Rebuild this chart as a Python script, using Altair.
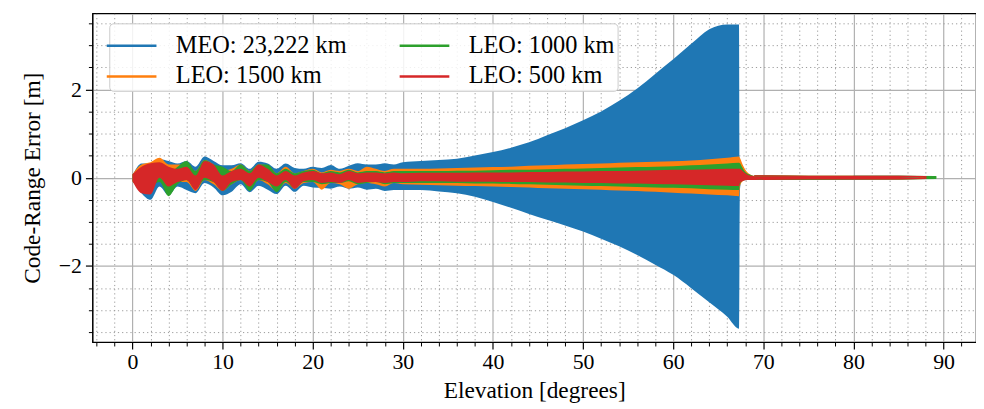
import altair as alt
import pandas as pd

FONT = "Liberation Serif"
NAMES = ["MEO: 23,222 km", "LEO: 1500 km", "LEO: 1000 km", "LEO: 500 km"]
COLORS = ["#1f77b4", "#ff7f0e", "#2ca02c", "#d62728"]

# common elevation grid (degrees) for the main part of every series
ELEV_MAIN = list(range(0, 31)) + list(range(32, 67, 2)) + [67.3]

# ---- MEO 23,222 km ----
MEO_UP = [0.05, 0.32, 0.33, 0.42, 0.38, 0.32, 0.38, 0.25, 0.48, 0.38, 0.28, 0.28, 0.33, 0.2, 0.36, 0.32,
          0.2, 0.32, 0.22, 0.2, 0.25, 0.22, 0.29, 0.2, 0.27, 0.33, 0.3, 0.3, 0.33, 0.3, 0.35,
          0.38, 0.4, 0.43, 0.5, 0.58, 0.68, 0.8, 0.96, 1.12, 1.3, 1.5, 1.74, 2.02, 2.35, 2.68, 3.03, 3.36, 3.47,
          3.47]
MEO_LO = [-0.05, -0.35, -0.5, -0.2, -0.4, -0.2, -0.28, -0.35, -0.12, -0.22, -0.4, -0.32, -0.15, -0.33, -0.18, -0.27,
          -0.37, -0.18, -0.32, -0.18, -0.22, -0.23, -0.25, -0.2, -0.25, -0.22, -0.27, -0.25, -0.3, -0.28, -0.28,
          -0.28, -0.31, -0.35, -0.43, -0.55, -0.68, -0.82, -0.95, -1.08, -1.22, -1.38, -1.55, -1.75, -1.97, -2.2, -2.5, -2.82, -3.15,
          -3.42]
MEO_TAIL_ELEV = [67.4, 67.6, 69, 75, 80, 85, 87.2]
MEO_TAIL_UP = [0.05, 0.04, 0.03, 0.04, 0.03, 0.03, 0.02]
MEO_TAIL_LO = [-0.3, -0.06, -0.05, -0.05, -0.05, -0.04, -0.03]

# ---- LEO 1500 km ----
L1500_UP = [0.08, 0.3, 0.35, 0.45, 0.3, 0.3, 0.3, 0.15, 0.4, 0.3, 0.15, 0.2, 0.3, 0.15, 0.3, 0.28,
            0.1, 0.25, 0.1, 0.15, 0.2, 0.12, 0.18, 0.15, 0.2, 0.15, 0.25, 0.2, 0.15, 0.2, 0.2,
            0.2, 0.21, 0.22, 0.23, 0.24, 0.25, 0.27, 0.28, 0.3, 0.31, 0.32, 0.34, 0.35, 0.36, 0.37, 0.39, 0.42, 0.45,
            0.48]
L1500_LO = [-0.08, -0.25, -0.2, -0.05, -0.3, -0.1, -0.1, -0.3, -0.05, -0.15, -0.3, -0.15, -0.05, -0.25, -0.05, -0.15,
            -0.3, -0.12, -0.25, -0.12, -0.1, -0.27, -0.12, -0.15, -0.25, -0.15, -0.12, -0.15, -0.2, -0.12, -0.15,
            -0.16, -0.17, -0.18, -0.19, -0.2, -0.21, -0.22, -0.24, -0.25, -0.26, -0.27, -0.29, -0.3, -0.32, -0.34, -0.36, -0.38, -0.4,
            -0.42]
L1500_TAIL_ELEV = [67.4, 67.7, 68, 68.5, 69, 75, 80, 85, 87.8]
L1500_TAIL_UP = [0.45, 0.3, 0.18, 0.08, 0.04, 0.03, 0.03, 0.03, 0.02]
L1500_TAIL_LO = [-0.2, -0.08, -0.05, -0.05, -0.05, -0.04, -0.04, -0.04, -0.03]

# ---- LEO 1000 km ----
L1000_UP = [0.08, 0.2, 0.3, 0.3, 0.1, 0.25, 0.38, 0.15, 0.4, 0.3, 0.25, 0.15, 0.3, 0.15, 0.3, 0.3,
            0.1, 0.2, 0.1, 0.15, 0.18, 0.1, 0.15, 0.12, 0.18, 0.12, 0.15, 0.15, 0.12, 0.15, 0.15,
            0.15, 0.15, 0.16, 0.16, 0.17, 0.18, 0.18, 0.19, 0.2, 0.21, 0.22, 0.23, 0.24, 0.25, 0.26, 0.28, 0.3, 0.32,
            0.34]
L1000_LO = [-0.08, -0.25, -0.2, -0.1, -0.42, -0.15, -0.05, -0.25, -0.05, -0.1, -0.3, -0.15, -0.05, -0.3, -0.05, -0.1,
            -0.33, -0.1, -0.25, -0.1, -0.1, -0.15, -0.12, -0.12, -0.08, -0.15, -0.12, -0.1, -0.15, -0.12, -0.12,
            -0.12, -0.12, -0.12, -0.13, -0.13, -0.14, -0.15, -0.16, -0.17, -0.18, -0.19, -0.2, -0.21, -0.22, -0.23, -0.24, -0.26, -0.27,
            -0.28]
L1000_TAIL_ELEV = [67.4, 67.7, 68, 68.5, 69, 75, 80, 85, 89.2]
L1000_TAIL_UP = [0.33, 0.22, 0.13, 0.07, 0.04, 0.03, 0.03, 0.03, 0.02]
L1000_TAIL_LO = [-0.15, -0.07, -0.05, -0.05, -0.05, -0.05, -0.04, -0.04, -0.03]

# ---- LEO 500 km ----
L500_UP = [0.08, 0.25, 0.33, 0.35, 0.25, 0.2, 0.25, 0.05, 0.38, 0.3, 0.05, 0.15, 0.2, 0.1, 0.3, 0.2,
           0.05, 0.15, 0.05, 0.12, 0.15, 0.1, 0.12, 0.08, 0.15, 0.1, 0.12, 0.12, 0.1, 0.12, 0.1,
           0.11, 0.11, 0.11, 0.12, 0.12, 0.12, 0.13, 0.13, 0.14, 0.14, 0.15, 0.15, 0.16, 0.17, 0.18, 0.18, 0.19, 0.2,
           0.2]
L500_LO = [-0.08, -0.35, -0.38, 0.0, -0.2, -0.1, -0.05, -0.28, 0.0, -0.1, -0.3, -0.1, -0.05, -0.2, 0.0, -0.1,
           -0.2, -0.05, -0.25, -0.08, -0.05, -0.12, -0.1, -0.12, -0.05, -0.12, -0.1, -0.1, -0.12, -0.1, -0.1,
           -0.08, -0.08, -0.09, -0.09, -0.09, -0.1, -0.1, -0.11, -0.11, -0.12, -0.12, -0.13, -0.13, -0.14, -0.15, -0.16, -0.17, -0.18,
           -0.19]
L500_TAIL_ELEV = [67.4, 67.7, 68, 68.5, 69, 75, 80, 85, 88.1]
L500_TAIL_UP = [0.2, 0.15, 0.1, 0.05, 0.04, 0.03, 0.03, 0.03, 0.02]
L500_TAIL_LO = [-0.12, -0.08, -0.06, -0.05, -0.05, -0.04, -0.04, -0.04, -0.03]

X_MAJOR = list(range(0, 91, 10))
X_MINOR = [v for v in range(-4, 93, 2) if v % 10 != 0]
Y_MAJOR = [-2, 0, 2]
Y_MINOR = [-3.5, -3, -2.5, -1.5, -1, -0.5, 0.5, 1, 1.5, 2.5, 3, 3.5]

SERIES = [
    (NAMES[0], COLORS[0], MEO_UP, MEO_LO, MEO_TAIL_ELEV, MEO_TAIL_UP, MEO_TAIL_LO),
    (NAMES[1], COLORS[1], L1500_UP, L1500_LO, L1500_TAIL_ELEV, L1500_TAIL_UP, L1500_TAIL_LO),
    (NAMES[2], COLORS[2], L1000_UP, L1000_LO, L1000_TAIL_ELEV, L1000_TAIL_UP, L1000_TAIL_LO),
    (NAMES[3], COLORS[3], L500_UP, L500_LO, L500_TAIL_ELEV, L500_TAIL_UP, L500_TAIL_LO),
]

xs = alt.Scale(domain=[-4.45, 93.6], nice=False, zero=False)
ys = alt.Scale(domain=[-3.72, 3.72], nice=False, zero=False)

major_x = alt.Axis(values=X_MAJOR, orient="bottom", title="Elevation [degrees]", tickSize=7, tickWidth=1.2,
                   grid=True, gridColor="#b0b0b0", gridWidth=1.2, labelPadding=3, titlePadding=6,
                   domainColor="black", tickColor="black")
major_y = alt.Axis(values=Y_MAJOR, orient="left", title="Code-Range Error [m]", tickSize=7, tickWidth=1.2,
                   grid=True, gridColor="#b0b0b0", gridWidth=1.2, labelPadding=4, titlePadding=14,
                   domainColor="black", tickColor="black")
minor_x = alt.Axis(values=X_MINOR, orient="bottom", title=None, labels=False, tickSize=4, tickWidth=1,
                   grid=True, gridColor="#9a9a9a", gridDash=[1.2, 3], gridWidth=1, domain=False, tickColor="black")
minor_y = alt.Axis(values=Y_MINOR, orient="left", title=None, labels=False, tickSize=4, tickWidth=1,
                   grid=True, gridColor="#9a9a9a", gridDash=[1.2, 3], gridWidth=1, domain=False, tickColor="black")

layers = []
tails = []
for i, (name, col, up, lo, te, tu, tl) in enumerate(SERIES):
    df = pd.DataFrame({"elev": ELEV_MAIN + te, "upper": up + tu, "lower": lo + tl, "series": name})
    layers.append(
        alt.Chart(df).mark_area(color=col, opacity=1, interpolate="monotone").encode(
            x=alt.X("elev:Q", scale=xs, axis=major_x if i == 0 else None),
            y=alt.Y("upper:Q", scale=ys, axis=major_y if i == 0 else None),
            y2="lower:Q",
        )
    )
    tails.append(pd.DataFrame({"elev": te[4:], "upper": tu[4:], "series": name}))

minor_layer = alt.Chart(pd.DataFrame({"elev": ELEV_MAIN, "upper": MEO_UP})).mark_point(opacity=0).encode(
    x=alt.X("elev:Q", scale=xs, axis=minor_x),
    y=alt.Y("upper:Q", scale=ys, axis=minor_y),
)

tail_df = pd.concat(tails)
legend_layer = alt.Chart(tail_df).mark_line(strokeWidth=1.5).encode(
    x=alt.X("elev:Q", scale=xs, axis=None),
    y=alt.Y("upper:Q", scale=ys, axis=None),
    stroke=alt.Stroke(
        "series:N",
        scale=alt.Scale(domain=NAMES, range=COLORS),
        legend=alt.Legend(
            orient="none", legendX=17, legendY=10, columns=2, title=None,
            symbolType="M-1.39,0H1.39", symbolSize=1296, symbolStrokeWidth=2.5,
            labelFont=FONT, labelFontSize=24.5, labelColor="black", labelOffset=25, labelLimit=0,
            columnPadding=47, rowPadding=-6, padding=3,
            fillColor="rgba(255,255,255,0.85)", strokeColor="#cccccc", cornerRadius=4,
        ),
    ),
    detail="series:N",
)

chart = alt.layer(minor_layer, *layers, legend_layer).resolve_axis(
    x="independent", y="independent"
).properties(
    width=890, height=331, autosize=alt.AutoSizeParams(type="none"),
    padding={"left": 85, "top": 4, "right": 0, "bottom": 60},
).configure_axis(
    labelFont=FONT, titleFont=FONT, labelFontSize=22, titleFontSize=23.5, titleFontWeight="normal",
    labelColor="black", titleColor="black",
).configure_view(stroke="black", strokeWidth=1.2)

chart.save("out.html", embed_options={"renderer": "svg", "actions": False})
